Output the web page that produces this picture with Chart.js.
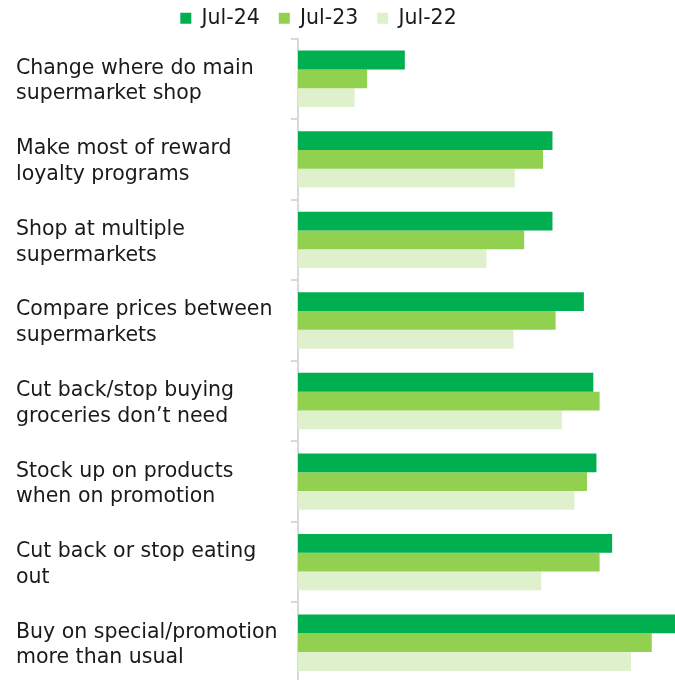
<!DOCTYPE html>
<html lang="en">
<head>
    <meta charset="UTF-8" />
    <title>Supermarket behaviours</title>
    <script src="https://cdn.jsdelivr.net/npm/chart.js"></script>
    <style>
        html, body {
            margin: 0;
            padding: 0;
            overflow: hidden;
            background: #fff;
        }

        .chart-container {
            width: 675px;
            height: 683px;
            position: relative;
        }
    </style>
</head>
<body>
    <div class="chart-container">
        <canvas id="behaviourChart"></canvas>
    </div>

    <script>
        const categories = [
            ['Change where do main', 'supermarket shop'],
            ['Make most of reward', 'loyalty programs'],
            ['Shop at multiple', 'supermarkets'],
            ['Compare prices between', 'supermarkets'],
            ['Cut back/stop buying', 'groceries don\u2019t need'],
            ['Stock up on products', 'when on promotion'],
            ['Cut back or stop eating', 'out'],
            ['Buy on special/promotion', 'more than usual']
        ];

        const jul24 = [17, 40.5, 40.5, 45.5, 47, 47.5, 50, 60];
        const jul23 = [11, 39, 36, 41, 48, 46, 48, 56.3];
        const jul22 = [9, 34.5, 30, 34.3, 42, 44, 38.7, 53];

        const seriesNames = ['Jul-24', 'Jul-23', 'Jul-22'];
        const colors = ['#00b050', '#92d050', '#dff0cd'];

        const datasets = [jul24, jul23, jul22].map((values, i) => ({
            label: seriesNames[i],
            data: values,
            backgroundColor: colors[i],
            borderWidth: 0,
            categoryPercentage: 0.7,
            barPercentage: 1.0
        }));

        const fontFamily = '"DejaVu Sans", sans-serif';

        // the legend in the original sits a little left of centre
        const shiftLegend = {
            id: 'shiftLegend',
            afterLayout(chart) {
                chart.legend.left -= 27;
                chart.legend.right -= 27;
            }
        };

        new Chart(document.getElementById('behaviourChart'), {
            type: 'bar',
            data: {
                labels: categories,
                datasets: datasets
            },
            plugins: [shiftLegend],
            options: {
                indexAxis: 'y',
                responsive: true,
                maintainAspectRatio: false,
                animation: false,
                layout: {
                    padding: { left: 16, right: 0, top: -11, bottom: 0 }
                },
                scales: {
                    x: {
                        display: false,
                        min: 0,
                        max: 60
                    },
                    y: {
                        afterFit: (scale) => {
                            scale.width = 282;
                            // no extra room for the multi-line first/last labels
                            scale.paddingTop = 0;
                            scale.paddingBottom = 0;
                        },
                        border: { color: '#d9d9d9', width: 2 },
                        grid: {
                            offset: true,
                            drawOnChartArea: false,
                            tickLength: 7,
                            color: '#d9d9d9',
                            lineWidth: 2
                        },
                        ticks: {
                            crossAlign: 'far',
                            labelOffset: 2.5,
                            color: '#1a1a1a',
                            font: { family: fontFamily, size: 20.5, lineHeight: 1.25 }
                        }
                    }
                },
                plugins: {
                    legend: {
                        position: 'top',
                        labels: {
                            boxWidth: 11,
                            boxHeight: 11,
                            color: '#1a1a1a',
                            padding: 19,
                            font: { family: fontFamily, size: 20.5 }
                        }
                    },
                    tooltip: { enabled: false }
                }
            }
        });
    </script>
</body>
</html>
